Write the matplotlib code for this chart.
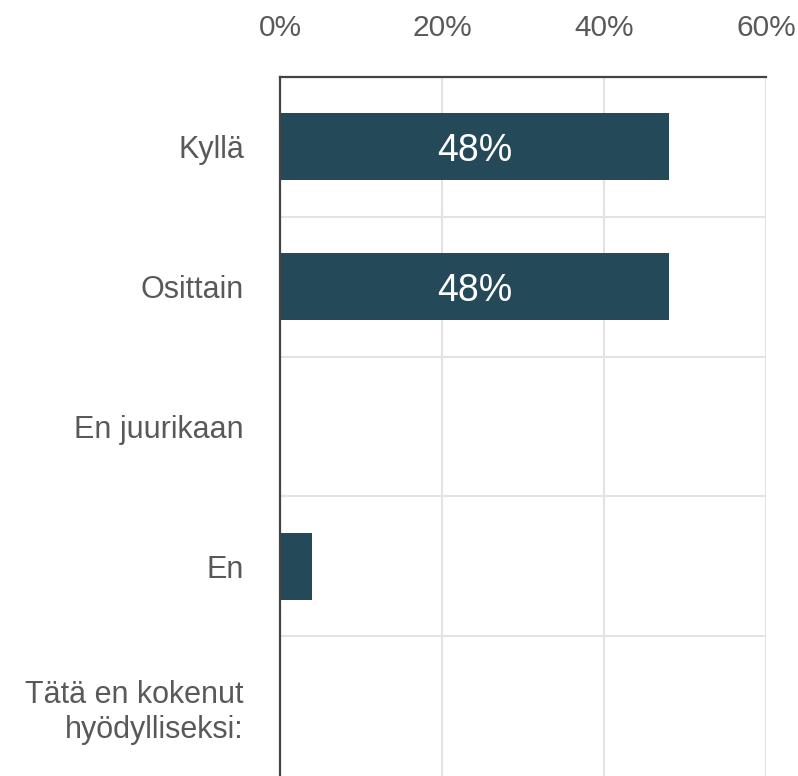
import numpy as np
import matplotlib.pyplot as plt
from matplotlib.ticker import FixedLocator

plt.rcParams['font.family'] = ['Liberation Sans', 'DejaVu Sans']

categories = ['Kyllä', 'Osittain', 'En juurikaan', 'En', 'Tätä en kokenut\nhyödylliseksi:']
values = [48, 48, 0, 4, 0]
bar_labels = ['48%', '48%', '', '', '']
xticks = [0, 20, 40, 60]

bar_color = '#244a59'
text_color = '#595959'
grid_color = '#e3e3e3'

fig = plt.figure(figsize=(7.98, 7.76), dpi=100)
ax = fig.add_axes([280 / 798, -0.0026, (766 - 280) / 798, 0.9034])

y = np.arange(len(categories))
bars = ax.barh(y, values, height=0.48, color=bar_color, zorder=3)
for b, lab in zip(bars, bar_labels):
    if lab:
        ax.text(b.get_width() / 2, b.get_y() + b.get_height() / 2 + 0.03, lab,
                ha='center', va='center', color='white', fontsize=27, zorder=4)

ax.set_xlim(0, 60)
ax.set_ylim(len(categories) - 0.5 + 0.015, -0.5)
ax.set_yticks(y)
ax.set_yticklabels(categories, ha='right', multialignment='right', linespacing=1.25)
ax.yaxis.set_minor_locator(FixedLocator(np.arange(0.5, len(categories) - 0.5, 1)))
ax.set_xticks(xticks)
ax.set_xticklabels([f'{v}%' for v in xticks])

ax.xaxis.tick_top()
ax.tick_params(axis='x', which='both', length=0, pad=25, labelsize=21.5, labelcolor=text_color)
ax.tick_params(axis='y', which='both', length=0, pad=26, labelsize=22, labelcolor=text_color)

ax.grid(axis='x', which='major', color=grid_color, linewidth=1.5, zorder=0)
ax.grid(axis='y', which='minor', color=grid_color, linewidth=1.5, zorder=0)

for side in ['right', 'bottom']:
    ax.spines[side].set_visible(False)
for side in ['left', 'top']:
    ax.spines[side].set_color('#444444')
    ax.spines[side].set_linewidth(1.6)
    ax.spines[side].set_zorder(5)

fig.savefig('out.png', dpi=100)
